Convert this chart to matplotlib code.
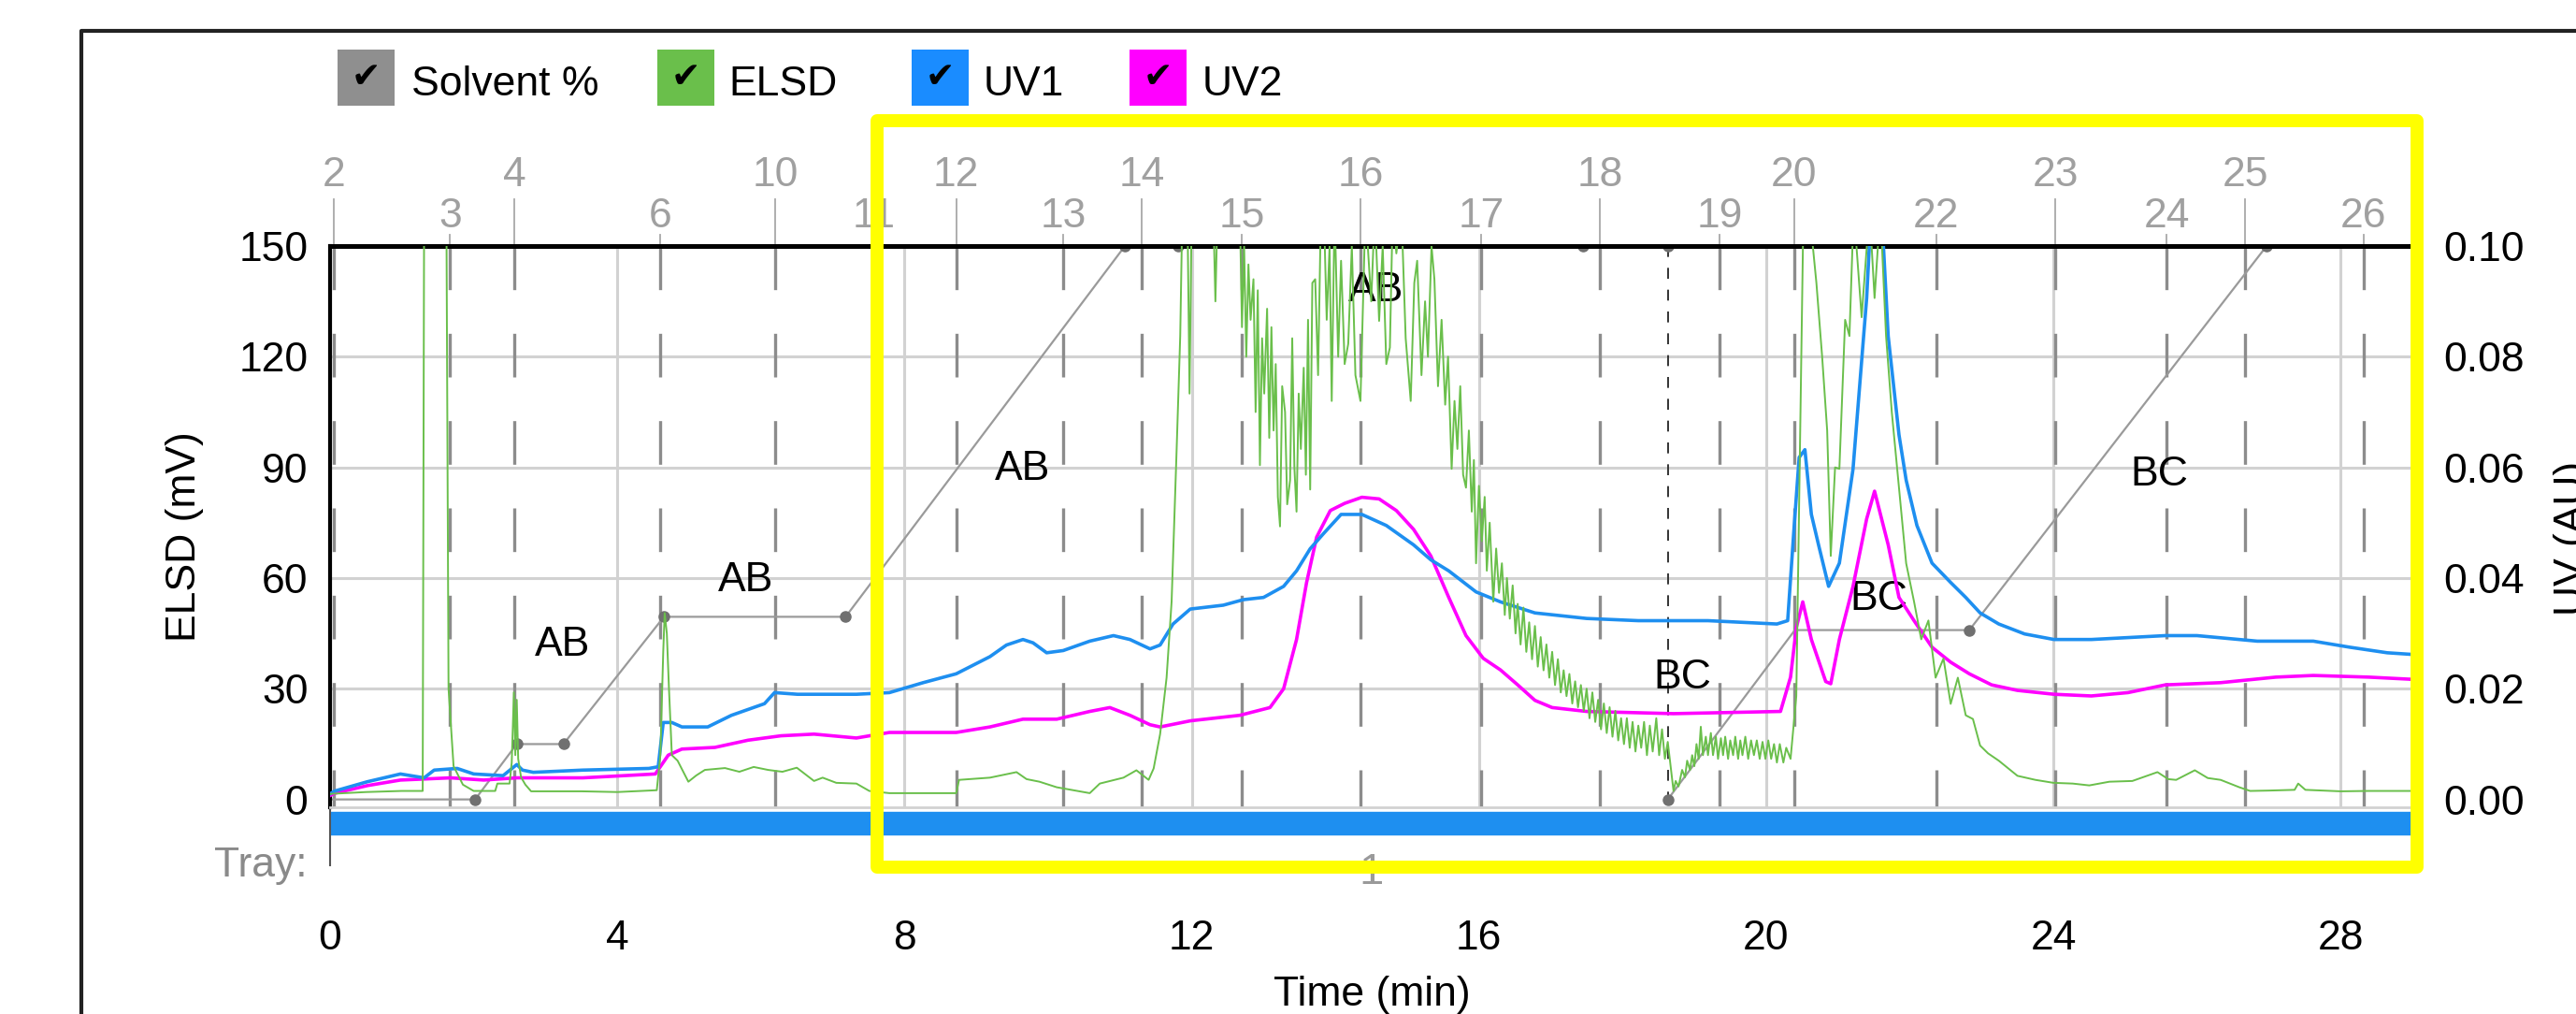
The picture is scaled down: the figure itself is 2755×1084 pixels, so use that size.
import matplotlib.pyplot as plt
from matplotlib.patches import Rectangle
from matplotlib.lines import Line2D
from matplotlib.transforms import blended_transform_factory

plt.rcParams['font.family'] = ['Liberation Sans', 'DejaVu Sans']

# ---- data ----
# ELSD signal (mV); values above 150 are off-scale (clipped by the axes)
elsd_t = [0.00, 0.50, 1.00, 1.29, 1.31, 1.62, 1.65, 1.72, 1.85, 2.00,
          2.30, 2.33, 2.50, 2.53, 2.56, 2.58, 2.60, 2.62, 2.66, 2.72, 2.80,
          3.50, 4.00, 4.55, 4.60, 4.64, 4.66, 4.69, 4.72, 4.76, 4.84, 4.99,
          5.10, 5.22, 5.50, 5.70, 5.90, 6.10, 6.30, 6.50, 6.74, 6.86, 7.05,
          7.33, 7.51, 7.79, 8.20, 8.72, 8.76, 9.19, 9.56, 9.70, 9.88, 10.12,
          10.58, 10.72, 11.05, 11.23, 11.40, 11.47, 11.56, 11.65, 11.72, 11.79,
          11.84, 11.87, 11.94, 11.97, 12.00, 12.03, 12.30, 12.33, 12.36, 12.67,
          12.70, 12.73, 12.76, 12.79, 12.82, 12.86, 12.89, 12.92, 12.95, 12.98,
          13.01, 13.05, 13.08, 13.11, 13.14, 13.17, 13.20, 13.23, 13.26, 13.30,
          13.33, 13.37, 13.40, 13.43, 13.46, 13.49, 13.52, 13.56, 13.59, 13.62,
          13.65, 13.68, 13.72, 13.76, 13.80, 13.84, 13.88, 13.92, 13.95, 13.99,
          14.04, 14.08, 14.13, 14.18, 14.23, 14.28, 14.35, 14.42, 14.50, 14.55,
          14.61, 14.66, 14.71, 14.76, 14.80, 14.85, 14.92, 14.98, 15.05, 15.10,
          15.14, 15.20, 15.25, 15.29, 15.34, 15.38, 15.43, 15.48, 15.53, 15.57,
          15.62, 15.66, 15.70, 15.74, 15.78, 15.82, 15.86, 15.90, 15.93, 15.96,
          16.00, 16.04, 16.08, 16.11, 16.15, 16.20, 16.24, 16.28, 16.32, 16.36,
          16.39, 16.43, 16.47, 16.51, 16.54, 16.58, 16.62, 16.66, 16.70, 16.74,
          16.78, 16.82, 16.86, 16.90, 16.94, 16.98, 17.02, 17.06, 17.10, 17.14,
          17.18, 17.22, 17.26, 17.30, 17.34, 17.38, 17.42, 17.46, 17.50, 17.54,
          17.58, 17.62, 17.66, 17.70, 17.74, 17.78, 17.82, 17.86, 17.90, 17.94,
          17.98, 18.02, 18.06, 18.10, 18.14, 18.18, 18.22, 18.26, 18.30, 18.34,
          18.38, 18.42, 18.47, 18.51, 18.55, 18.59, 18.63, 18.71, 18.74, 18.78,
          18.83, 18.87, 18.90, 18.94, 18.97, 19.00, 19.03, 19.06, 19.09, 19.12,
          19.16, 19.19, 19.23, 19.26, 19.30, 19.33, 19.37, 19.40, 19.43, 19.47,
          19.50, 19.54, 19.57, 19.61, 19.64, 19.67, 19.71, 19.75, 19.79, 19.83,
          19.87, 19.91, 19.95, 19.99, 20.03, 20.07, 20.11, 20.15, 20.19, 20.24,
          20.28, 20.34, 20.42, 20.47, 20.52, 20.60, 20.70, 20.78, 20.85, 20.90,
          20.96, 21.02, 21.10, 21.16, 21.22, 21.33, 21.44, 21.51, 21.59, 21.67,
          21.75, 21.85, 21.95, 22.06, 22.16, 22.26, 22.36, 22.47, 22.57, 22.67,
          22.78, 22.88, 22.98, 23.09, 23.24, 23.50, 23.75, 24.00, 24.27, 24.50,
          24.78, 25.10, 25.45, 25.60, 25.71, 25.97, 26.15, 26.33, 26.59, 26.74,
          27.00, 27.36, 27.41, 27.51, 28.00, 28.39, 29.00]
elsd_mv = [1.5, 2.0, 2.3, 2.3, 160, 160, 30, 9, 4, 2.3,
           2.3, 4.3, 4.3, 10, 29, 12, 27, 11, 6, 4, 2.2,
           2.2, 2.0, 2.5, 12, 40, 50.5, 45, 30, 12, 10.5, 4.8,
           6.5, 8.0, 8.5, 7.5, 8.8, 8.0, 7.5, 8.6, 5.0, 5.9, 4.5,
           4.3, 2.3, 1.7, 1.7, 1.7, 5.3, 5.9, 7.4, 5.5, 4.8, 3.3,
           1.7, 4.3, 5.9, 7.9, 5.3, 8.4, 17.7, 33, 53.6, 94.8,
           125.6, 160, 160, 110, 160, 160, 160, 135, 160, 160,
           128, 150, 120, 145, 130, 141, 105, 138, 90.6, 125,
           110, 133, 98, 128, 100, 118, 82, 74, 112, 105,
           80, 86.5, 125, 90, 78, 110, 95, 117, 88, 130,
           84, 140, 141, 115, 160, 160, 130, 150, 108, 160,
           120, 146, 118, 123.5, 150, 115, 108, 160, 135, 160,
           129.7, 150, 118, 122.5, 160, 148, 160, 125, 108, 140,
           146, 115, 135, 120, 150, 141, 112, 130, 107, 120,
           89.6, 108, 95, 112, 88, 84.5, 100, 78, 92, 64,
           85, 70, 82, 62, 75, 53.6, 68, 56, 64, 50,
           60, 49, 58, 45, 53, 42, 52, 40, 48, 38,
           47, 36, 44, 35, 42, 33, 40, 31, 38, 29,
           35, 28, 34, 26, 32, 25, 31, 24, 30, 22,
           29, 21, 27, 19, 26, 18, 25, 17, 24, 16,
           22, 15, 22, 14, 21, 13, 20, 14, 21, 12,
           20, 13, 22, 12, 19, 11, 15.6, 2.3, 5, 3.5,
           8, 6, 10.5, 8, 12, 9, 15, 11, 19.7, 12,
           17, 12, 18, 12, 17, 11, 16.6, 12, 17, 11,
           16, 12, 17, 11, 16, 12, 17, 11, 16, 12,
           16, 11, 15.6, 11, 16, 11, 15, 10, 15, 10,
           14, 11, 28, 94.8, 160, 160, 140, 120, 100, 66,
           90, 89.6, 130, 125.6, 160, 130.7, 160, 135.9, 160, 125.6,
           105, 84.5, 64, 53.6, 43.4, 48.5, 33, 38.2, 25.9, 33,
           22.8, 21.8, 14.6, 12.5, 10.5, 6.4, 5.3, 4.5, 4.3, 3.8,
           4.8, 5.0, 7.4, 5.5, 5.3, 7.9, 5.8, 5.3, 3.3, 2.3,
           2.4, 2.6, 4.3, 2.6, 2.2, 2.3, 2.3]

# UV1 / UV2 absorbance (AU)
uv1_t = [0.00, 0.06, 0.52, 0.98, 1.31, 1.45, 1.77, 2.00, 2.41, 2.60,
         2.68, 2.83, 3.52, 4.44, 4.57, 4.64, 4.76, 4.90, 5.26, 5.59,
         6.05, 6.19, 6.51, 7.05, 7.33, 7.79, 8.26, 8.72, 9.19, 9.42,
         9.65, 9.79, 9.98, 10.21, 10.58, 10.91, 11.14, 11.42, 11.56, 11.74,
         11.98, 12.44, 12.72, 13.00, 13.28, 13.46, 13.65, 13.84, 14.08, 14.37,
         14.71, 15.09, 15.33, 15.58, 15.96, 16.30, 16.78, 17.50, 18.22, 19.19,
         20.15, 20.30, 20.39, 20.46, 20.54, 20.63, 20.73, 20.87, 21.02, 21.21,
         21.40, 21.45, 21.62, 21.70, 21.85, 21.95, 22.10, 22.31, 22.57, 22.78,
         22.98, 23.24, 23.60, 24.01, 24.53, 25.56, 26.00, 26.84, 27.62, 28.13,
         28.65, 29.00]
uv1_au = [0.0010, 0.0015, 0.0032, 0.0046, 0.0039, 0.0053, 0.0056, 0.0046, 0.0043, 0.0063,
          0.0053, 0.0049, 0.0053, 0.0056, 0.0059, 0.0139, 0.0139, 0.0131, 0.0131, 0.0152,
          0.0173, 0.0193, 0.0190, 0.0190, 0.0190, 0.0193, 0.0211, 0.0227, 0.0258, 0.0279,
          0.0289, 0.0283, 0.0265, 0.0269, 0.0286, 0.0296, 0.0289, 0.0272, 0.0279, 0.0317,
          0.0344, 0.0351, 0.0361, 0.0365, 0.0385, 0.0413, 0.0453, 0.0481, 0.0515, 0.0515,
          0.0495, 0.0460, 0.0433, 0.0413, 0.0375, 0.0357, 0.0337, 0.0327, 0.0323, 0.0323,
          0.0317, 0.0323, 0.0493, 0.0618, 0.0632, 0.0515, 0.0460, 0.0385, 0.0427, 0.0597,
          0.0906, 0.1033, 0.1033, 0.0837, 0.0659, 0.0577, 0.0495, 0.0427, 0.0392, 0.0365,
          0.0337, 0.0317, 0.0299, 0.0289, 0.0289, 0.0296, 0.0296, 0.0286, 0.0286, 0.0275,
          0.0265, 0.0262]

uv2_t = [0.00, 0.06, 0.52, 0.98, 1.68, 2.14, 2.60, 3.52, 4.53, 4.71,
         4.90, 5.36, 5.82, 6.28, 6.74, 7.33, 7.79, 8.72, 9.19, 9.65,
         10.12, 10.58, 10.86, 11.14, 11.42, 11.56, 11.98, 12.67, 13.09, 13.28,
         13.46, 13.60, 13.74, 13.93, 14.13, 14.37, 14.61, 14.85, 15.09, 15.33,
         15.58, 15.82, 16.06, 16.30, 16.54, 16.78, 17.02, 17.50, 18.71, 20.20,
         20.34, 20.42, 20.51, 20.63, 20.83, 20.90, 21.02, 21.21, 21.40, 21.51,
         21.70, 21.85, 22.06, 22.31, 22.57, 22.83, 23.14, 23.50, 24.01, 24.53,
         25.04, 25.56, 26.33, 27.10, 27.62, 28.39, 29.00]
uv2_au = [0.0007, 0.0011, 0.0025, 0.0035, 0.0039, 0.0035, 0.0039, 0.0039, 0.0046, 0.0080,
          0.0091, 0.0094, 0.0107, 0.0115, 0.0118, 0.0111, 0.0121, 0.0121, 0.0131, 0.0145,
          0.0145, 0.0159, 0.0166, 0.0152, 0.0135, 0.0131, 0.0142, 0.0152, 0.0166, 0.0200,
          0.0289, 0.0392, 0.0474, 0.0522, 0.0535, 0.0546, 0.0543, 0.0522, 0.0488, 0.0440,
          0.0365, 0.0296, 0.0255, 0.0234, 0.0207, 0.0179, 0.0166, 0.0159, 0.0155, 0.0159,
          0.0221, 0.0310, 0.0357, 0.0289, 0.0213, 0.0209, 0.0289, 0.0385, 0.0507, 0.0557,
          0.0460, 0.0365, 0.0323, 0.0275, 0.0248, 0.0227, 0.0207, 0.0197, 0.0190, 0.0187,
          0.0193, 0.0207, 0.0211, 0.0221, 0.0224, 0.0221, 0.0217]

# solvent gradient (%), two runs: A->B then B->C
solv1_t = [0.0, 2.02, 2.60, 3.25, 4.65, 7.18, 11.07, 11.81, 17.45, 18.63]
solv1_pct = [0, 0, 10, 10, 33, 33, 100, 100, 100, 100]
solv2_t = [18.63, 20.40, 22.83, 26.97, 29.0]
solv2_pct = [0, 30.6, 30.6, 100, 100]
solvent_switch = 18.63

seg_labels = ['AB', 'AB', 'AB', 'AB', 'BC', 'BC', 'BC']
seg_label_t = [3.24, 5.79, 9.65, 14.56, 18.83, 21.57, 25.48]
seg_label_mv = [41.8, 59.3, 89.6, 138, 33.1, 54.4, 88]

# fraction markers along the top
frac_labels = ['2', '3', '4', '6', '10', '11', '12', '13', '14', '15',
               '16', '17', '18', '19', '20', '22', '23', '24', '25', '26']
frac_t = [0.05, 1.67, 2.57, 4.60, 6.20, 7.58, 8.72, 10.21, 11.30, 12.70,
          14.35, 16.03, 17.69, 19.35, 20.39, 22.37, 24.03, 25.58, 26.67, 28.32]

tray_start, tray_end = 0, 29
tray_names = ['1']

x_ticks = [0, 4, 8, 12, 16, 20, 24, 28]
elsd_ticks = [0, 30, 60, 90, 120, 150]
uv_ticks = [0.00, 0.02, 0.04, 0.06, 0.08, 0.10]

# ---- colours ----
C_GREEN = '#6abf4b'
C_BLUE = '#1e8ff0'
C_MAG = '#ff00ff'
C_GRAY = '#9a9a9a'
C_GRID = '#d2d2d2'
FS = 32

W, H = 2755, 1084


def fx(px):
    return px / W


def fy(py):
    return 1 - py / H


fig = plt.figure(figsize=(W / 100, H / 100), dpi=100)

# main chromatogram axes
ax = fig.add_axes([fx(353), fy(862.5), (2580 - 353) / W, (862.5 - 263) / H])
ax_uv = ax.twinx()
ax_sol = ax.twinx()
ax_sol.axis('off')

for t in x_ticks[1:]:
    ax.axvline(t, color=C_GRID, lw=2.2, zorder=0.5)
for v in elsd_ticks[1:-1]:
    ax.axhline(v, color=C_GRID, lw=2.2, zorder=0.5)

# fraction boundary lines + numbers above the plot
top_tr = blended_transform_factory(ax.transData, ax.transAxes)
for i, (t, lab) in enumerate(zip(frac_t, frac_labels)):
    ax.plot([t, t], [150, -2], color='#8c8c8c', lw=2.4, dashes=(14, 14), zorder=0.8)
    if i % 2 == 0:
        y_lab, y_tick = 1.106, 1.0834
    else:
        y_lab, y_tick = 1.0334, 1.0200
    ax.plot([t, t], [1.0, y_tick], color='#a8a8a8', lw=1.3, transform=top_tr, clip_on=False)
    ax.text(t, y_lab, lab, transform=top_tr, ha='center', va='baseline',
            color='#a0a0a0', fontsize=FS, clip_on=False)

ax.plot([solvent_switch, solvent_switch], [150, -2], color='#333333', lw=1.4,
        dashes=(6, 6), zorder=1.5)

# solvent gradient
for st, sp in [(solv1_t, solv1_pct), (solv2_t, solv2_pct)]:
    ax.plot(st, sp, color=C_GRAY, lw=1.6, transform=ax_sol.transData, zorder=1.6)
ax.plot(solv1_t[1:], solv1_pct[1:], 'o', color='#707070', ms=8,
        transform=ax_sol.transData, zorder=1.7)
ax.plot([solv2_t[0], solv2_t[2], solv2_t[3]], [solv2_pct[0], solv2_pct[2], solv2_pct[3]],
        'o', color='#707070', ms=8, transform=ax_sol.transData, zorder=1.7)

for lab, t, v in zip(seg_labels, seg_label_t, seg_label_mv):
    ax.text(t, v, lab, ha='center', va='center', fontsize=FS, zorder=1.8)

ax.plot(uv2_t, uv2_au, color=C_MAG, lw=2.6, transform=ax_uv.transData, zorder=3)
ax.plot(uv1_t, uv1_au, color=C_BLUE, lw=2.6, transform=ax_uv.transData, zorder=3.2)
ax.plot(elsd_t, elsd_mv, color=C_GREEN, lw=1.4, zorder=3.5)

ax.set_xlim(0, 29)
ax.set_ylim(-2, 150)
ax_uv.set_ylim(-2 / 1500, 0.10)
ax_sol.set_ylim(-2 / 1.5, 100)

ax.set_xticks([])
ax.set_yticks(elsd_ticks)
ax.tick_params(axis='y', length=0, pad=17, labelsize=FS)
ax_uv.set_yticks(uv_ticks)
ax_uv.set_yticklabels([f'{v:.2f}' for v in uv_ticks])
ax_uv.tick_params(axis='y', length=0, pad=24, labelsize=FS)
for s in ax_uv.spines.values():
    s.set_visible(False)

ax.spines['top'].set_linewidth(3.6)
ax.spines['left'].set_linewidth(3.0)
ax.spines['right'].set_linewidth(2.0)
ax.spines['bottom'].set_color(C_GRID)
ax.spines['bottom'].set_linewidth(2.0)

# tray strip under the chromatogram
tray = fig.add_axes([fx(353), fy(950), (2580 - 353) / W, (950 - 866) / H])
tray.set_xlim(0, 29)
tray.set_ylim(0, 1)
tray.broken_barh([(tray_start, tray_end - tray_start)], (0.69, 0.286), color=C_BLUE)
for side in ['top', 'right', 'bottom']:
    tray.spines[side].set_visible(False)
tray.spines['left'].set_bounds(0.3, 1)
tray.spines['left'].set_color('#555555')
tray.spines['left'].set_linewidth(1.5)
tray.patch.set_alpha(0)
tray.set_yticks([])
tray.set_xticks(x_ticks)
tray.tick_params(axis='x', length=0, pad=24, labelsize=FS)
tray.text(-0.011, 0.155, 'Tray:', transform=tray.transAxes, ha='right', va='baseline',
          color='#8a8a8a', fontsize=FS)
tray.text((tray_start + tray_end) / 2, 0.06, tray_names[0], ha='center', va='baseline',
          color='#9a9a9a', fontsize=34)

fig.text(fx(1467), fy(1063), 'Time (min)', ha='center', va='center', fontsize=FS)
fig.text(fx(198), fy(574), 'ELSD (mV)', rotation=90, ha='center', va='center', fontsize=FS)
fig.text(fx(2752), fy(575), 'UV (AU)', rotation=90, ha='center', va='center', fontsize=FS)

# legend with check boxes
legend_items = [('Solvent %', '#8f8f8f', 361, 440), ('ELSD', C_GREEN, 703, 779),
                ('UV1', '#1a8cff', 975, 1052), ('UV2', C_MAG, 1208, 1286)]
for name, col, bx, tx in legend_items:
    fig.add_artist(Rectangle((fx(bx), fy(113)), 61 / W, 60 / H, transform=fig.transFigure,
                             facecolor=col, edgecolor='none'))
    fig.text(fx(bx + 30.5), fy(83), '\u2714', ha='center', va='center', fontsize=27,
             family='DejaVu Sans', color='black')
    fig.text(fx(tx), fy(102), name, ha='left', va='baseline', fontsize=FS)

# outer window frame
fig.add_artist(Line2D([fx(87), fx(87), 1.01], [-0.01, fy(33), fy(33)],
                      transform=fig.transFigure, color='#222222', lw=3))

# yellow highlight box
fig.add_artist(Rectangle((fx(938), fy(927)), (2585 - 938) / W, (927 - 129) / H,
                         transform=fig.transFigure, fill=False, edgecolor='#ffff00',
                         lw=10, joinstyle='round', zorder=10))

fig.savefig('out.png', dpi=100)
